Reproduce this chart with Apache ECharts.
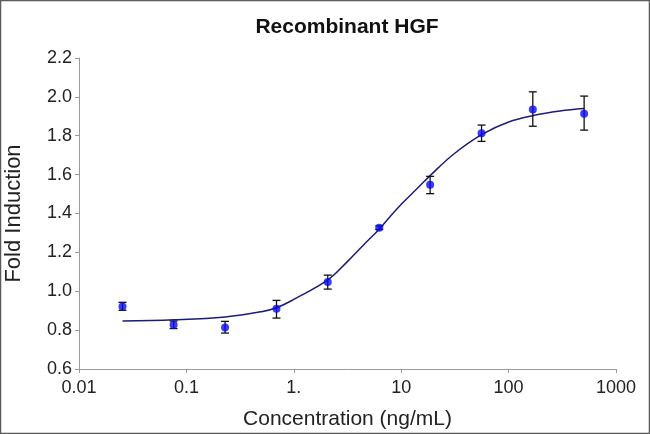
<!DOCTYPE html>
<html>
<head>
<meta charset="utf-8">
<script src="https://cdn.jsdelivr.net/npm/echarts@6/dist/echarts.min.js"></script>
<style>
html,body{margin:0;padding:0;background:#fff;}
#chart{width:650px;height:434px;}
</style>
</head>
<body>
<div id="chart"></div>
<script>
// Measured points (concentration in ng/mL)
var concentrations = [0.0254, 0.076, 0.229, 0.69, 2.07, 6.25, 18.6, 56, 168, 505];
var meanFold = [0.922, 0.828, 0.814, 0.910, 1.047, 1.327, 1.548, 1.813, 1.935, 1.913];
var errUpper = [0.943, 0.847, 0.845, 0.953, 1.083, 1.336, 1.591, 1.855, 2.026, 2.004];
var errLower = [0.902, 0.808, 0.785, 0.862, 1.011, 1.318, 1.502, 1.771, 1.849, 1.829];

// Fitted curve
var curveX = [0.0254, 0.077, 0.23, 0.5, 0.69, 1.0, 2.07, 3.12, 4.46, 6.3, 7.9, 10.5, 14.0, 18.7, 30.7, 56.5, 100, 170, 300, 505];
var curveY = [0.847, 0.853, 0.868, 0.895, 0.915, 0.958, 1.058, 1.150, 1.238, 1.322, 1.385, 1.459, 1.527, 1.596, 1.705, 1.807, 1.871, 1.904, 1.927, 1.940];

var xTickLabels = ['0.01', '0.1', '1.', '10', '100', '1000'];

var pointData = concentrations.map(function (c, i) { return [c, meanFold[i]]; });
var errData = concentrations.map(function (c, i) { return [c, errLower[i], errUpper[i]]; });
var curveData = curveX.map(function (c, i) { return [c, curveY[i]]; });

var chart = echarts.init(document.getElementById('chart'), null, {renderer: 'canvas'});
var font = '"Liberation Sans", Arial, sans-serif';

chart.setOption({
  animation: false,
  backgroundColor: '#ffffff',
  graphic: [{
    type: 'rect', silent: true, z: 100,
    shape: {x: 0.5, y: 0.5, width: 649, height: 433},
    style: {fill: 'none', stroke: '#5a5a5a', lineWidth: 1.5}
  }],
  title: {
    text: 'Recombinant HGF',
    left: 342, top: 12, textAlign: 'center',
    textStyle: {fontFamily: font, fontSize: 21, fontWeight: 'bold', color: '#111'}
  },
  grid: {left: 79, right: 34, top: 58, bottom: 65, outerBoundsMode: 'none', containLabel: false},
  xAxis: {
    type: 'log', logBase: 10, min: 0.01, max: 1000,
    name: 'Concentration (ng/mL)', nameLocation: 'middle', nameGap: 40,
    nameTextStyle: {fontFamily: font, fontSize: 21, color: '#222'},
    axisLine: {lineStyle: {color: '#9a9a9a', width: 1}},
    axisTick: {show: true, length: 4, lineStyle: {color: '#9a9a9a'}},
    minorTick: {show: false},
    splitLine: {show: false},
    axisLabel: {
      fontFamily: font, fontSize: 18, color: '#222', margin: 10,
      formatter: function (v) {
        var idx = Math.round(Math.log10(v)) + 2;
        return xTickLabels[idx] !== undefined ? xTickLabels[idx] : '';
      }
    }
  },
  yAxis: {
    type: 'value', min: 0.6, max: 2.2, interval: 0.2,
    name: 'Fold Induction', nameLocation: 'middle', nameGap: 54,
    nameTextStyle: {fontFamily: font, fontSize: 22, color: '#222'},
    axisLine: {show: true, lineStyle: {color: '#9a9a9a', width: 1}},
    axisTick: {show: true, length: 4, lineStyle: {color: '#9a9a9a'}},
    splitLine: {show: false},
    axisLabel: {
      fontFamily: font, fontSize: 18, color: '#222', margin: 7,
      formatter: function (v) { return v.toFixed(1); }
    }
  },
  series: [
    {
      type: 'line', data: curveData, smooth: 0.4, showSymbol: false,
      lineStyle: {color: '#1c1c78', width: 1.5}, z: 2
    },
    {
      type: 'custom', data: errData, z: 3,
      renderItem: function (params, api) {
        var x = api.value(0);
        var lo = api.coord([x, api.value(1)]);
        var hi = api.coord([x, api.value(2)]);
        var hw = 4;
        var st = {stroke: '#111', lineWidth: 1.3, fill: 'none'};
        return {
          type: 'group',
          children: [
            {type: 'line', shape: {x1: lo[0], y1: lo[1], x2: hi[0], y2: hi[1]}, style: st},
            {type: 'line', shape: {x1: lo[0] - hw, y1: lo[1], x2: lo[0] + hw, y2: lo[1]}, style: st},
            {type: 'line', shape: {x1: hi[0] - hw, y1: hi[1], x2: hi[0] + hw, y2: hi[1]}, style: st}
          ]
        };
      }
    },
    {
      type: 'scatter', data: pointData, symbol: 'circle', symbolSize: 8, z: 4,
      itemStyle: {color: '#0a0af5'}
    }
  ]
});
</script>
</body>
</html>
